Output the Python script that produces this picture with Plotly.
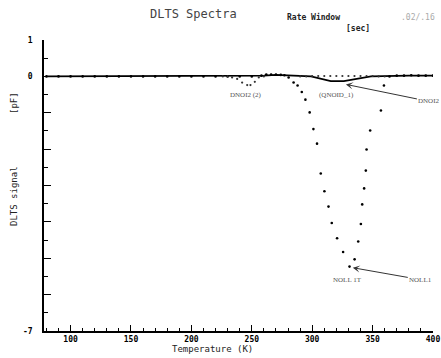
import plotly.graph_objects as go

# ---- data ----
# NOLL1 series (dotted), temperature in K and DLTS signal in pF
noll1_T = [80, 90, 100, 110, 120, 130, 140, 150, 160, 170, 180, 190, 200, 210, 220,
           230, 240, 250, 258, 262, 266, 270, 274, 277, 280.5, 284.6, 287.9, 291.4,
           294.4, 297.9, 301.0, 304.0, 307.1, 310.1, 313.5, 316.2, 320.6, 325.6,
           330.9, 335.1, 338.1, 340.3, 341.4, 343.0, 344.4, 345.0, 348.0, 356.9,
           359.4, 364, 370, 376, 382, 388, 394, 400]
noll1_V = [0.0, 0.0, 0.0, 0.0, 0.0, 0.0, 0.0, 0.0, 0.0, 0.0, 0.0, 0.0, 0.0, 0.0, 0.0,
           0.0, 0.0, 0.0, 0.02, 0.05, 0.05, 0.05, 0.04, 0.03, -0.03, -0.17, -0.25, -0.43,
           -0.64, -0.99, -1.45, -1.85, -2.67, -3.16, -3.58, -4.03, -4.45, -4.83,
           -5.23, -5.03, -4.54, -4.06, -3.52, -3.08, -2.59, -2.01, -1.49, -0.94,
           -0.25, 0.0, 0.02, 0.02, 0.03, 0.02, 0.02, 0.02]

# solid series
solid_T = [80, 120, 160, 200, 240, 260, 270, 280, 290, 299, 315.4, 326.2, 348.6, 360, 380, 400]
solid_V = [0.0, 0.0, 0.0, 0.0, 0.0, 0.02, 0.04, 0.02, 0.0, 0.0, -0.13, -0.13, 0.0, 0.01, 0.02, 0.02]

# DNOI2 (2) series (dotted): small dip near 245 K, flat elsewhere
dnoi2_T = [226, 230, 233.7, 237.9, 242.0, 246.2, 248.9, 252.5, 255.8, 260,
           290, 295, 300, 305, 310, 315, 320, 325, 330, 335, 340, 345, 350, 355, 360]
dnoi2_V = [0.0, 0.0, -0.03, -0.07, -0.17, -0.24, -0.24, -0.15, -0.03, 0.0,
           0.0, 0.0, 0.01, 0.01, 0.01, 0.01, 0.01, 0.01, 0.01, 0.01, 0.01, 0.01, 0.01, 0.0, 0.0]

x_ticks = [100, 150, 200, 250, 300, 350, 400]
y_ticks = [-7, -6, -5, -4, -3, -2, -1, 0, 1]
y_ticktext = ["-7", "", "", "", "", "", "", "0", "1"]

MONO = "DejaVu Sans Mono"
W, H = 441, 358
ML, MR, MT, MB = 44, 8, 40, 27
PW, PH = W - ML - MR, H - MT - MB

fig = go.Figure()
fig.add_trace(go.Scatter(x=solid_T, y=solid_V, mode="lines",
                         line=dict(color="black", width=1.6), showlegend=False))
fig.add_trace(go.Scatter(x=noll1_T, y=noll1_V, mode="markers",
                         marker=dict(color="black", size=2.6), showlegend=False))
fig.add_trace(go.Scatter(x=dnoi2_T, y=dnoi2_V, mode="markers",
                         marker=dict(color="#333", size=2.2), showlegend=False))

fig.update_layout(
    width=W, height=H,
    margin=dict(l=ML, r=MR, t=MT, b=MB, autoexpand=False),
    paper_bgcolor="white", plot_bgcolor="white",
    showlegend=False,
    xaxis=dict(range=[78, 400], tickvals=x_ticks, ticks="inside", ticklen=6,
               tickcolor="black", showline=True, linecolor="black", linewidth=1.5,
               showgrid=False, zeroline=False, mirror=False, automargin=False,
               tickfont=dict(family=MONO, size=8, color="black", weight="bold"),
               minor=dict(dtick=10, tick0=80, ticks="inside", ticklen=3, tickcolor="black")),
    yaxis=dict(range=[-7, 1], tickvals=y_ticks, ticktext=y_ticktext, ticks="inside",
               ticklen=7, tickcolor="black", showline=True, linecolor="black",
               linewidth=1.5, showgrid=False, zeroline=False, automargin=False,
               ticklabelstandoff=8,
               tickfont=dict(family=MONO, size=8, color="black", weight="bold"),
               minor=dict(dtick=0.5, ticks="inside", ticklen=4, tickcolor="black")),
)


def px2paper(px, py):
    return (px - ML) / PW, 1 - (py - MT) / PH


ann = [
    dict(text="DLTS Spectra", x=193, y=14, size=12, color="#444"),
    dict(text="Rate Window", x=313, y=17, size=8, color="#222", weight="bold"),
    dict(text="[sec]", x=358, y=29, size=8, color="#222", weight="bold"),
    dict(text=".02/.16", x=418, y=17, size=8, color="#aaa"),
    dict(text="Temperature (K)", x=212, y=349, size=9, color="#222"),
]
for a in ann:
    xp, yp = px2paper(a["x"], a["y"])
    fig.add_annotation(text=a["text"], xref="paper", yref="paper", x=xp, y=yp,
                       showarrow=False, xanchor="center", yanchor="middle",
                       font=dict(family=MONO, size=a["size"], color=a["color"],
                                 weight=a.get("weight", "normal")))

# y axis titles (rotated)
for txt, py in [("[pF]", 103), ("DLTS signal", 196)]:
    xp, yp = px2paper(14, py)
    fig.add_annotation(text=txt, xref="paper", yref="paper", x=xp, y=yp,
                       showarrow=False, textangle=-90, xanchor="center", yanchor="middle",
                       font=dict(family=MONO, size=9, color="#222"))

# curve labels
labels = [("DNOI2 (2)", 245.6, -0.52), ("(QNOID_1)", 320.4, -0.52), ("NOLL 1T", 329.6, -5.59)]
for txt, x, y in labels:
    fig.add_annotation(text=txt, x=x, y=y, showarrow=False,
                       font=dict(family="Liberation Serif", size=7, color="#555"))

# arrow labels
for txt, x, y, ax, ay in [("DNOI2", 327.9, -0.22, 83, 17), ("NOLL1", 333.6, -5.26, 68, 12)]:
    fig.add_annotation(text=txt, x=x, y=y, ax=ax, ay=ay, showarrow=True,
                       arrowhead=3, arrowsize=1.2, arrowwidth=1, arrowcolor="#333",
                       font=dict(family="Liberation Serif", size=7, color="#555"))

fig.write_html("out.html", config={"displayModeBar": False},
               post_script="document.body.style.margin='0';document.body.style.overflow='hidden';")
